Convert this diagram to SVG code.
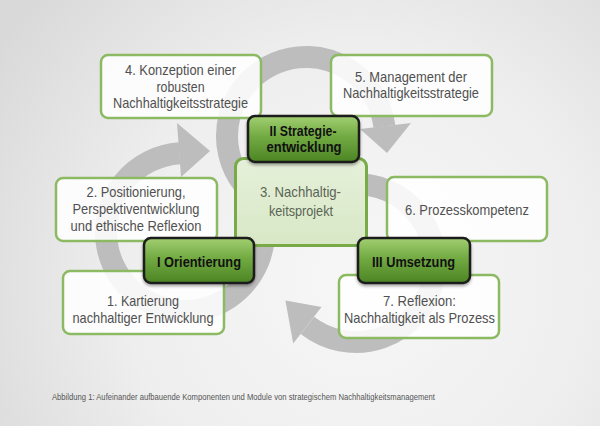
<svg xmlns="http://www.w3.org/2000/svg" width="600" height="426" viewBox="0 0 600 426">
  <defs>
    <radialGradient id="bg" gradientUnits="userSpaceOnUse" cx="360" cy="280" r="430">
      <stop offset="0" stop-color="#f7f7f7"/>
      <stop offset="0.55" stop-color="#eeeeee"/>
      <stop offset="1" stop-color="#d9d9d9"/>
    </radialGradient>
    <linearGradient id="dark" x1="0" y1="0" x2="0" y2="1">
      <stop offset="0" stop-color="#a2cf72"/>
      <stop offset="0.45" stop-color="#72aa42"/>
      <stop offset="1" stop-color="#4c8424"/>
    </linearGradient>
    <linearGradient id="light" x1="0" y1="0" x2="0" y2="1">
      <stop offset="0" stop-color="#e6f0da"/>
      <stop offset="1" stop-color="#d8e8c6"/>
    </linearGradient>
    <filter id="shadow" x="-20%" y="-20%" width="140%" height="150%">
      <feDropShadow dx="0" dy="2" stdDeviation="1.5" flood-color="#000" flood-opacity="0.35"/>
    </filter>
  </defs>
  <style>
    .ring { fill: none; stroke: #bdbdbd; stroke-width: 22; }
    .head { fill: #bdbdbd; }
    .wbox { fill: #ffffff; fill-opacity: 0.86; stroke: #8cba62; stroke-width: 2.5; }
    .lbox { fill: url(#light); stroke: #78aa48; stroke-width: 3; }
    .dbox { fill: url(#dark); stroke: #1c1c1c; stroke-width: 2.5; filter: url(#shadow); }
    .t { font-family: "Liberation Sans", Arial, sans-serif; font-size: 15px; fill: #505050; text-anchor: middle; }
    .tl { font-family: "Liberation Sans", Arial, sans-serif; font-size: 15px; fill: #5a6554; text-anchor: middle; }
    .b { font-family: "Liberation Sans", Arial, sans-serif; font-size: 15.5px; font-weight: bold; fill: #111111; text-anchor: middle; }
    .cap { font-family: "Liberation Sans", Arial, sans-serif; font-size: 9.5px; fill: #555555; }
  </style>

  <rect x="0" y="0" width="600" height="426" fill="url(#bg)"/>

  <g id="connectors">
    <path class="ring" d="M261.3,211.6 A79,79 0 1 1 179.5,153.2"/>
    <polygon class="head" points="181,177 177,123 210,151"/>
    <path class="ring" d="M243.7,184.6 A79,79 0 1 1 384.4,126.4"/>
    <polygon class="head" points="360,129 411,123 387,153"/>
    <path class="ring" d="M342.3,185.2 A79,79 0 1 1 307.4,325.3"/>
    <polygon class="head" points="321.5,307.1 293.2,343.4 285.4,300.6"/>
  </g>

  <g id="node4">
    <rect class="wbox" x="101" y="55" width="160" height="63" rx="7"/>
    <text class="t" x="180.5" y="75" textLength="111" lengthAdjust="spacingAndGlyphs">4. Konzeption einer</text>
    <text class="t" x="180.5" y="91.5" textLength="48" lengthAdjust="spacingAndGlyphs">robusten</text>
    <text class="t" x="180.5" y="108" textLength="135" lengthAdjust="spacingAndGlyphs">Nachhaltigkeitsstrategie</text>
  </g>
  <g id="node5">
    <rect class="wbox" x="331" y="55" width="161" height="61" rx="7"/>
    <text class="t" x="411" y="82" textLength="112" lengthAdjust="spacingAndGlyphs">5. Management der</text>
    <text class="t" x="411" y="98" textLength="136" lengthAdjust="spacingAndGlyphs">Nachhaltigkeitsstrategie</text>
  </g>
  <g id="node2">
    <rect class="wbox" x="56" y="178" width="161" height="63" rx="7"/>
    <text class="t" x="136" y="197" textLength="99" lengthAdjust="spacingAndGlyphs">2. Positionierung,</text>
    <text class="t" x="136" y="214" textLength="127" lengthAdjust="spacingAndGlyphs">Perspektiventwicklung</text>
    <text class="t" x="136" y="231" textLength="131" lengthAdjust="spacingAndGlyphs">und ethische Reflexion</text>
  </g>
  <g id="node1">
    <rect class="wbox" x="63" y="271" width="161" height="63" rx="7"/>
    <text class="t" x="143" y="306" textLength="72" lengthAdjust="spacingAndGlyphs">1. Kartierung</text>
    <text class="t" x="143" y="323" textLength="141" lengthAdjust="spacingAndGlyphs">nachhaltiger Entwicklung</text>
  </g>
  <g id="node6">
    <rect class="wbox" x="387" y="177" width="160" height="64" rx="7"/>
    <text class="t" x="467" y="215" textLength="124" lengthAdjust="spacingAndGlyphs">6. Prozesskompetenz</text>
  </g>
  <g id="node7">
    <rect class="wbox" x="339" y="275" width="160" height="63" rx="7"/>
    <text class="t" x="419.5" y="306" textLength="73" lengthAdjust="spacingAndGlyphs">7. Reflexion:</text>
    <text class="t" x="419.5" y="323" textLength="151" lengthAdjust="spacingAndGlyphs">Nachhaltigkeit als Prozess</text>
  </g>
  <g id="node3">
    <rect class="lbox" x="235.5" y="158.5" width="131" height="87" rx="8"/>
    <text class="tl" x="300.5" y="197" textLength="81" lengthAdjust="spacingAndGlyphs">3. Nachhaltig-</text>
    <text class="tl" x="301" y="216" textLength="64" lengthAdjust="spacingAndGlyphs">keitsprojekt</text>
  </g>
  <g id="phase2">
    <rect class="dbox" x="248" y="116" width="111" height="46" rx="7"/>
    <text class="b" x="303" y="136" textLength="67" lengthAdjust="spacingAndGlyphs">II Strategie-</text>
    <text class="b" x="304" y="152" textLength="75" lengthAdjust="spacingAndGlyphs">entwicklung</text>
  </g>
  <g id="phase1">
    <rect class="dbox" x="144" y="238" width="110" height="45" rx="7"/>
    <text class="b" x="199" y="267" textLength="84" lengthAdjust="spacingAndGlyphs">I Orientierung</text>
  </g>
  <g id="phase3">
    <rect class="dbox" x="358" y="238" width="112" height="45" rx="7"/>
    <text class="b" x="413.5" y="267" textLength="83" lengthAdjust="spacingAndGlyphs">III Umsetzung</text>
  </g>

  <text class="cap" x="52" y="400" textLength="383" lengthAdjust="spacingAndGlyphs">Abbildung 1: Aufeinander aufbauende Komponenten und Module von strategischem Nachhaltigkeitsmanagement</text>
</svg>
